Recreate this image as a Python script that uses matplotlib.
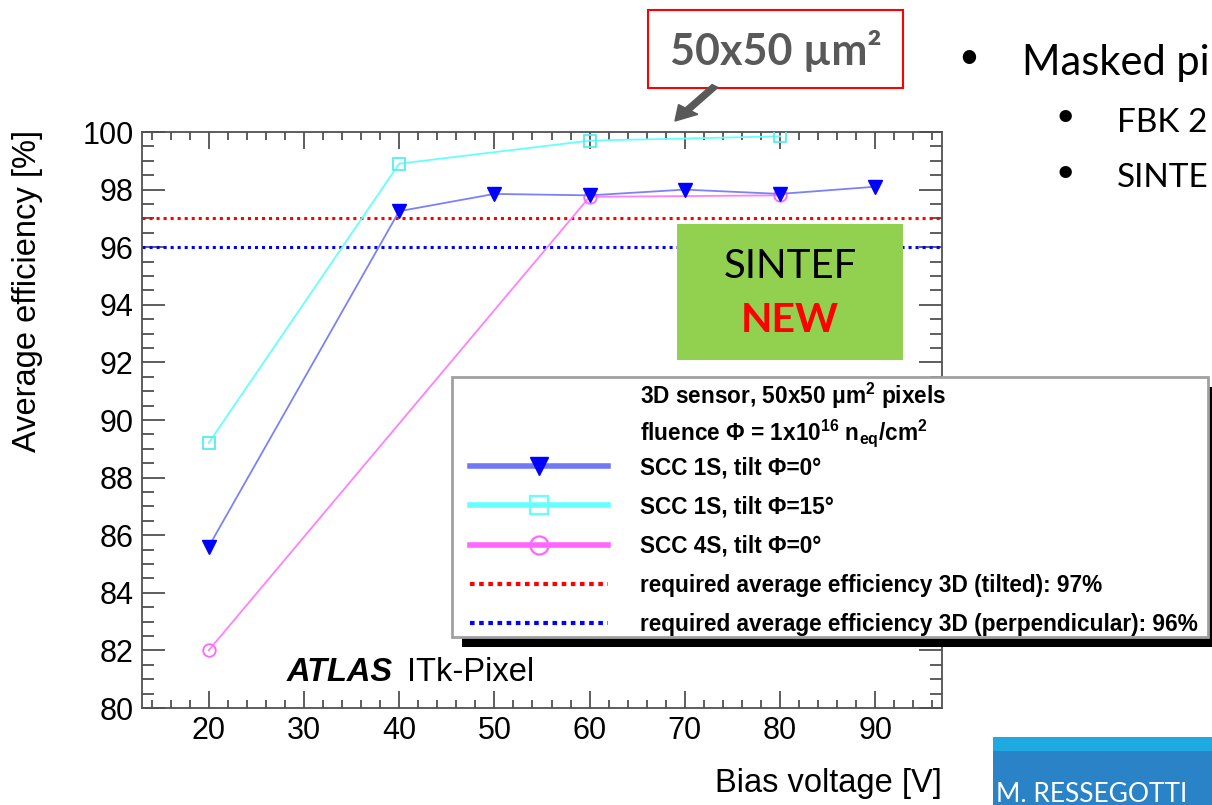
import numpy as np
import matplotlib.pyplot as plt
from matplotlib.lines import Line2D
from matplotlib.patches import Rectangle, FancyArrow
from matplotlib.ticker import MultipleLocator

plt.rcParams['font.family'] = ['Liberation Sans', 'DejaVu Sans']
plt.rcParams['mathtext.fontset'] = 'custom'
plt.rcParams['mathtext.rm'] = 'Liberation Sans:bold'
plt.rcParams['mathtext.it'] = 'Liberation Sans:bold'
plt.rcParams['mathtext.bf'] = 'Liberation Sans:bold'

# data
volt_1s_0 = [20, 40, 50, 60, 70, 80, 90]
eff_1s_0 = [85.6, 97.25, 97.85, 97.8, 98.0, 97.85, 98.1]
volt_1s_15 = [20, 40, 60, 80]
eff_1s_15 = [89.2, 98.9, 99.7, 99.85]
volt_4s_0 = [20, 60, 80]
eff_4s_0 = [82.0, 97.75, 97.8]
req_tilted = 97
req_perp = 96

W, H = 1212, 805
fig = plt.figure(figsize=(W / 100, H / 100), dpi=100)
fig.patch.set_facecolor('white')
ax = fig.add_axes([142 / W, 1 - 708 / H, 800 / W, 576 / H])

axis_col = '#505050'

# requirement lines
ax.axhline(req_tilted, color='#ff0000', lw=2.2, linestyle=(0, (1, 1.3)), zorder=2)
ax.axhline(req_perp, color='#0000ff', lw=2.2, linestyle=(0, (1, 1.3)), zorder=2)

# series
ax.plot(volt_4s_0, eff_4s_0, color='#ff80ff', lw=1.3, marker='o', ms=9,
        mfc='none', mec='#ff66ff', mew=1.3, zorder=3)
ax.plot(volt_1s_15, eff_1s_15, color='#66ffff', lw=1.3, marker='s', ms=9,
        mfc='none', mec='#55eeee', mew=1.3, zorder=3)
ax.plot(volt_1s_0, eff_1s_0, color='#7b82f5', lw=1.3, marker='v', ms=10,
        mfc='#0000ff', mec='#0000ff', zorder=4)

ax.set_xlim(13, 97)
ax.set_ylim(80, 100)
ax.xaxis.set_major_locator(MultipleLocator(10))
ax.xaxis.set_minor_locator(MultipleLocator(2))
ax.yaxis.set_major_locator(MultipleLocator(2))
ax.yaxis.set_minor_locator(MultipleLocator(0.5))
ax.tick_params(which='both', direction='in', top=True, right=True,
               color=axis_col, width=1.3, labelsize=22, labelcolor='black')
ax.tick_params(axis='x', which='major', length=12, pad=6)
ax.tick_params(axis='x', which='minor', length=6)
ax.tick_params(axis='y', which='major', length=16.5, pad=6)
ax.tick_params(axis='y', which='minor', length=8.5)
for sp in ax.spines.values():
    sp.set_color(axis_col)
    sp.set_linewidth(1.3)

ax.set_xlabel('Bias voltage [V]', fontsize=23.5, loc='right')
ax.xaxis.set_label_coords(1.0, -0.105)
ax.set_ylabel('Average efficiency [%]', fontsize=23.5, loc='top')
ax.yaxis.set_label_coords(-0.124, 1.003)

ax.text((287 - 142) / 800, (708 - 681) / 576, 'ATLAS', transform=ax.transAxes,
        fontsize=23.5, fontweight='bold', fontstyle='italic', va='baseline')
ax.text((407 - 142) / 800, (708 - 681) / 576, 'ITk-Pixel', transform=ax.transAxes,
        fontsize=23.5, va='baseline')

# legend (frame, shadow and header lines drawn separately)
ax.add_patch(Rectangle((462 / W, 1 - 647 / H), 760 / W, 260 / H, transform=fig.transFigure,
                       facecolor='black', edgecolor='none', clip_on=False, zorder=5.4))
ax.add_patch(Rectangle((452 / W, 1 - 637 / H), 756 / W, 260 / H, transform=fig.transFigure,
                       facecolor='white', edgecolor='#a0a0a0', lw=2, clip_on=False,
                       zorder=5.5))
leg_font = {'family': 'Liberation Sans', 'weight': 'bold', 'size': 16.3}
ax.text(640 / W, 1 - 404 / H, '3D sensor, 50x50 μm$^2$ pixels', transform=fig.transFigure,
        fontdict=leg_font, va='baseline', zorder=6, clip_on=False)
ax.text(640 / W, 1 - 440 / H, 'fluence Φ = 1x10$^{16}$ n$_{\\mathrm{eq}}$/cm$^2$',
        transform=fig.transFigure, fontdict=leg_font, va='baseline', zorder=6,
        clip_on=False)

handles = [
    Line2D([], [], color='#6f78f5', lw=4, marker='v', ms=13, mfc='#0000ff', mec='#0000ff'),
    Line2D([], [], color='#66ffff', lw=4, marker='s', ms=13, mfc='none', mec='#66ffff', mew=1.6),
    Line2D([], [], color='#ff66ff', lw=4, marker='o', ms=13, mfc='none', mec='#ff66ff', mew=1.6),
    Line2D([], [], color='#ff0000', lw=3, linestyle=(0, (1.1, 1.1))),
    Line2D([], [], color='#0000ff', lw=3, linestyle=(0, (1.1, 1.1))),
]
labels = [
    'SCC 1S, tilt Φ=0°',
    'SCC 1S, tilt Φ=15°',
    'SCC 4S, tilt Φ=0°',
    'required average efficiency 3D (tilted): 97%',
    'required average efficiency 3D (perpendicular): 96%',
]
leg = ax.legend(handles, labels, loc='upper left',
                bbox_to_anchor=(470 / W, 1 - 456 / H), bbox_transform=fig.transFigure,
                prop=leg_font, frameon=False, borderpad=0, labelspacing=0.72,
                handlelength=6.1, handletextpad=1.4, borderaxespad=0)
leg.set_zorder(6)

# slide overlays
slide_font = ['Lato', 'DejaVu Sans']
fig.patches.append(Rectangle((648 / W, 1 - 88 / H), 255 / W, 78 / H,
                             transform=fig.transFigure, facecolor='white',
                             edgecolor='#ff0000', lw=1.5, figure=fig))
fig.text(776 / W, 1 - 51 / H, '50x50 µm²', family=slide_font, fontsize=31,
         fontweight='bold', color='#595959', ha='center', va='center')
fig.patches.append(FancyArrow(715 / W, 1 - 86 / H, -40 / W, -35 / H, width=0.006,
                              head_width=0.02, head_length=0.018,
                              length_includes_head=True, transform=fig.transFigure,
                              color='#595959', figure=fig))

fig.patches.append(Rectangle((677 / W, 1 - 360 / H), 226 / W, 136 / H,
                             transform=fig.transFigure, facecolor='#92d050',
                             edgecolor='none', figure=fig))
fig.text(790 / W, 1 - 267 / H, 'SINTEF', family=slide_font, fontsize=29,
         color='black', ha='center', va='center')
fig.text(790 / W, 1 - 320 / H, 'NEW', family=slide_font, fontsize=29.5,
         fontweight='bold', color='#ff0000', ha='center', va='center')

fig.text(969 / W, 1 - 58 / H, '•', family=slide_font, fontsize=26, ha='center', va='center')
fig.text(1022 / W, 1 - 75 / H, 'Masked pi', family=slide_font, fontsize=30, va='baseline')
fig.text(1065 / W, 1 - 117 / H, '•', family=slide_font, fontsize=24, ha='center', va='center')
fig.text(1117 / W, 1 - 132 / H, 'FBK 2', family=slide_font, fontsize=24, va='baseline')
fig.text(1065 / W, 1 - 173 / H, '•', family=slide_font, fontsize=24, ha='center', va='center')
fig.text(1117 / W, 1 - 187 / H, 'SINTE', family=slide_font, fontsize=24, va='baseline')

fig.patches.append(Rectangle((993 / W, 0), 219 / W, 68 / H, transform=fig.transFigure,
                             facecolor='#2a83c6', edgecolor='none', figure=fig))
fig.patches.append(Rectangle((993 / W, 1 - 751 / H), 219 / W, 14 / H,
                             transform=fig.transFigure, facecolor='#1eaae0',
                             edgecolor='none', figure=fig))
fig.text(996 / W, 1 - 802 / H, 'M. RESSEGOTTI', family=slide_font, fontsize=19,
         color='white', va='baseline')

fig.savefig('out.png', dpi=100)
